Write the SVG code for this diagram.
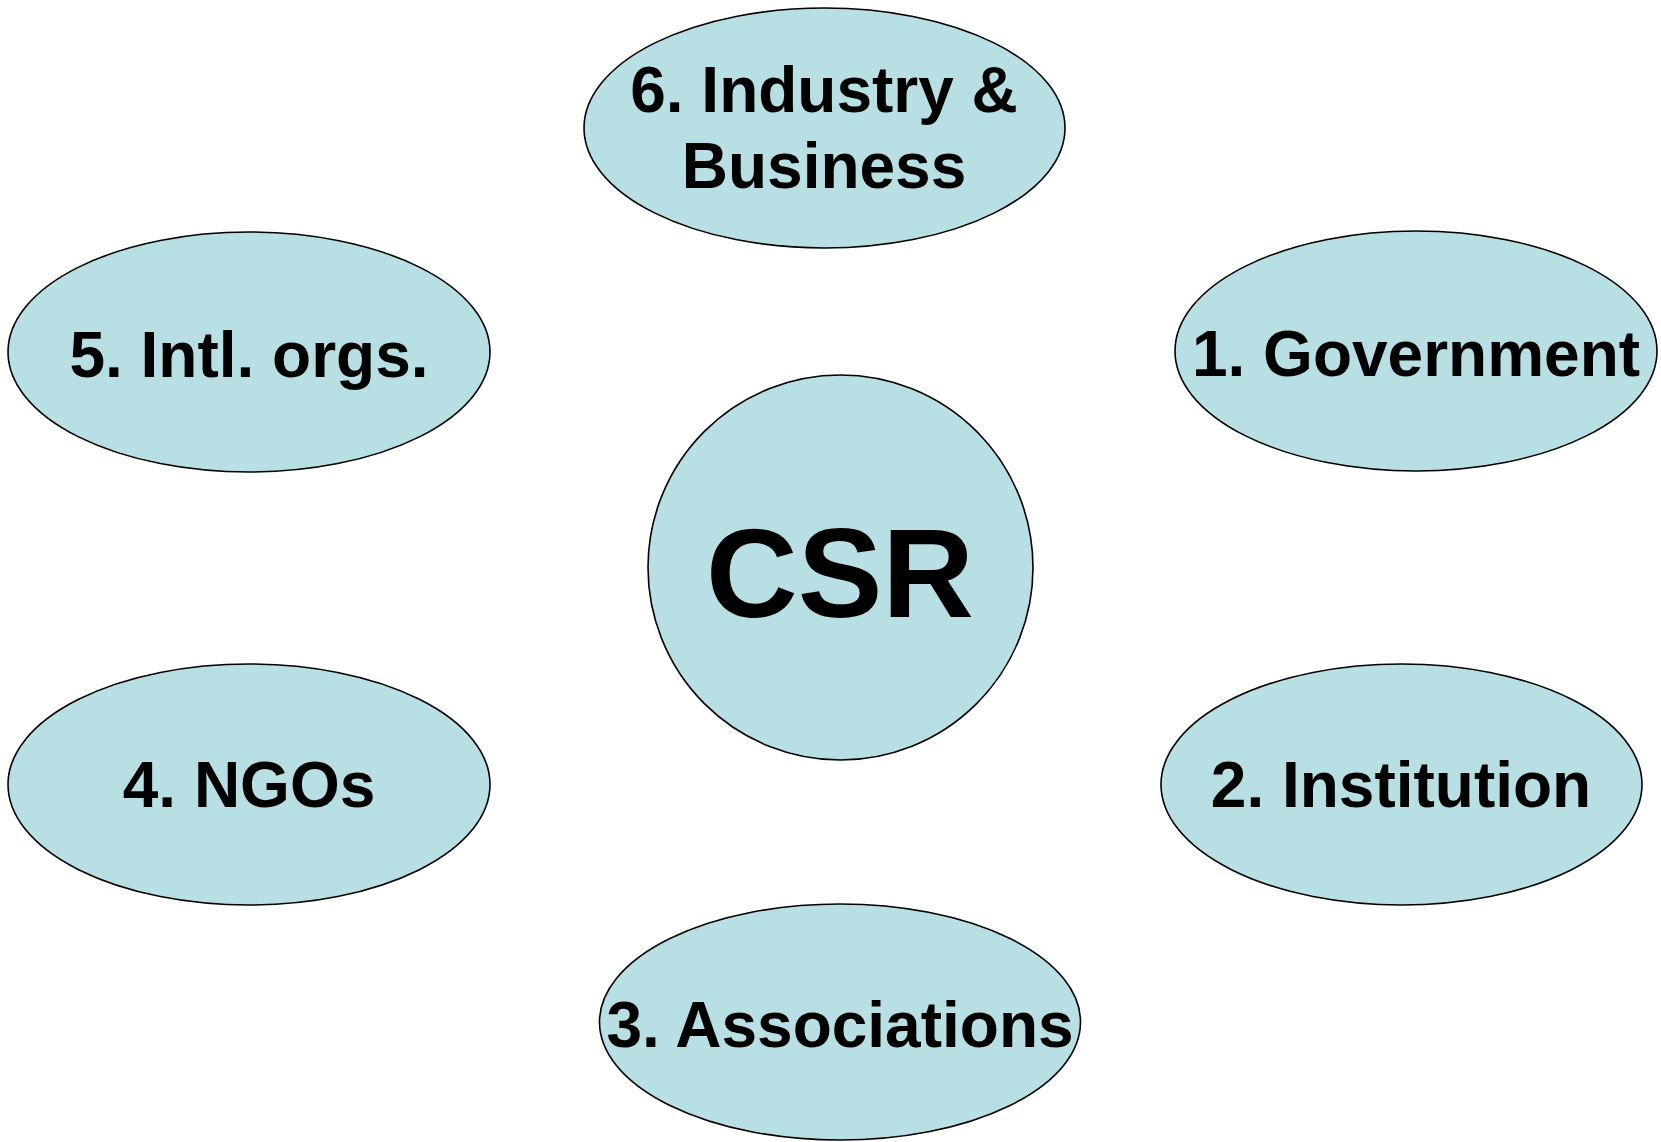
<svg xmlns="http://www.w3.org/2000/svg" width="1661" height="1142" viewBox="0 0 1661 1142">
  <style>
    .node { fill: #B8DFE3; stroke: #000; stroke-width: 1.6; }
    .label { font-family: "Liberation Sans", Arial, sans-serif; font-weight: bold; font-size: 64px; fill: #000; text-anchor: middle; }
    .hub { font-size: 127px; }
  </style>
  <rect width="1661" height="1142" fill="#fff"/>
  <g id="connectors"/>
  <g id="csr">
    <circle class="node" cx="840.5" cy="567.5" r="192.5"/>
    <text class="label hub" x="840" y="617">CSR</text>
  </g>
  <g id="industry-business">
    <ellipse class="node" cx="824.5" cy="128" rx="240.5" ry="120"/>
    <text class="label" x="824" y="112">6. Industry &amp;</text>
    <text class="label" x="824" y="188">Business</text>
  </g>
  <g id="government">
    <ellipse class="node" cx="1416" cy="351" rx="241" ry="120"/>
    <text class="label" x="1416" y="376">1. Government</text>
  </g>
  <g id="institution">
    <ellipse class="node" cx="1401.5" cy="784.5" rx="240.5" ry="120.5"/>
    <text class="label" x="1401" y="807">2. Institution</text>
  </g>
  <g id="associations">
    <ellipse class="node" cx="840" cy="1022" rx="240.5" ry="118"/>
    <text class="label" x="840" y="1047">3. Associations</text>
  </g>
  <g id="ngos">
    <ellipse class="node" cx="249" cy="784.5" rx="241" ry="120.5"/>
    <text class="label" x="249" y="807">4. NGOs</text>
  </g>
  <g id="intl-orgs">
    <ellipse class="node" cx="249" cy="352" rx="241" ry="120"/>
    <text class="label" x="249" y="377">5. Intl. orgs.</text>
  </g>
</svg>
